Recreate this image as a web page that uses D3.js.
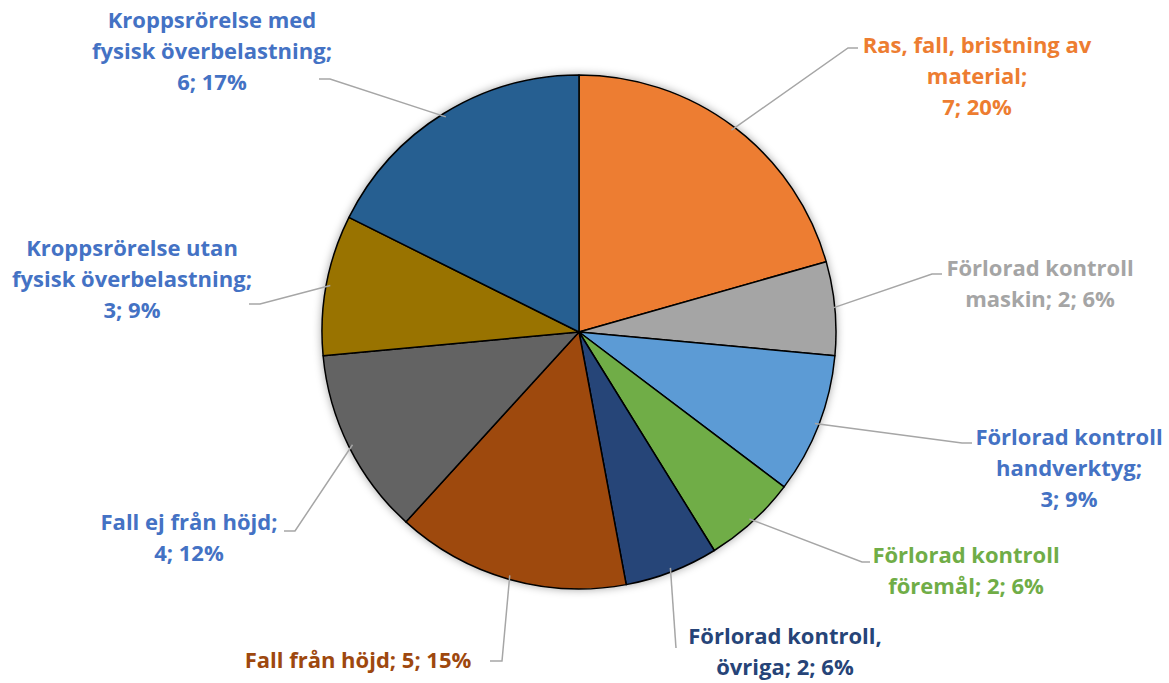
<!DOCTYPE html>
<html>
<head>
<meta charset="utf-8">
<script src="https://cdn.jsdelivr.net/npm/d3@7"></script>
<style>
  body { margin: 0; background: #fff; }
  svg text { font-family: "Open Sans", Lato, sans-serif; font-weight: bold; }
</style>
</head>
<body>
<div id="chart"></div>
<script>
const categories = [
  "Ras, fall, bristning av material",
  "Förlorad kontroll maskin",
  "Förlorad kontroll handverktyg",
  "Förlorad kontroll föremål",
  "Förlorad kontroll, övriga",
  "Fall från höjd",
  "Fall ej från höjd",
  "Kroppsrörelse utan fysisk överbelastning",
  "Kroppsrörelse med fysisk överbelastning"
];
const counts = [7, 2, 3, 2, 2, 5, 4, 3, 6];
const percents = ["20%", "6%", "9%", "6%", "6%", "15%", "12%", "9%", "17%"];
// label text as it wraps in the original
const labelLines = [
  ["Ras, fall, bristning av", "material;", "7; 20%"],
  ["Förlorad kontroll", "maskin; 2; 6%"],
  ["Förlorad kontroll", "handverktyg;", "3; 9%"],
  ["Förlorad kontroll", "föremål; 2; 6%"],
  ["Förlorad kontroll,", "övriga; 2; 6%"],
  ["Fall från höjd; 5; 15%"],
  ["Fall ej från höjd;", "4; 12%"],
  ["Kroppsrörelse utan", "fysisk överbelastning;", "3; 9%"],
  ["Kroppsrörelse med", "fysisk överbelastning;", "6; 17%"]
];
const sliceColors = ["#ED7D31", "#A5A5A5", "#5B9BD5", "#70AD47", "#264478", "#9E480E", "#636363", "#997300", "#255E91"];
const labelColors = ["#ED7D31", "#A5A5A5", "#4472C4", "#70AD47", "#264478", "#9E480E", "#4472C4", "#4472C4", "#4472C4"];

// label placement: text centre x, first line y, leader elbow, leader end
const labelLayout = [
  { x: 977, y: 53, elbow: [848, 48], end: [858, 48] },
  { x: 1040, y: 276, elbow: [932, 274], end: [942, 274] },
  { x: 1069, y: 445, elbow: [962, 443], end: [972, 443] },
  { x: 966, y: 563, elbow: [862, 562], end: [870, 562] },
  { x: 785, y: 644, elbow: [676, 648], end: [676, 648] },
  { x: 358, y: 668, elbow: [502, 661], end: [490, 661] },
  { x: 189, y: 530, elbow: [295, 531], end: [284, 531] },
  { x: 132, y: 256, elbow: [260, 304], end: [249, 304] },
  { x: 212, y: 28, elbow: [330, 79], end: [319, 79] }
];

const width = 1169, height = 683;
const cx = 579, cy = 332, radius = 257;
const lineHeight = 31;

const svg = d3.select("#chart").append("svg")
  .attr("width", width)
  .attr("height", height);

const defs = svg.append("defs");
const shadow = defs.append("filter")
  .attr("id", "shadow")
  .attr("x", "-10%").attr("y", "-10%")
  .attr("width", "120%").attr("height", "120%");
shadow.append("feDropShadow")
  .attr("dx", 0).attr("dy", 0)
  .attr("stdDeviation", 4)
  .attr("flood-color", "#000")
  .attr("flood-opacity", 0.35);

const pie = d3.pie().sort(null).value(d => d);
const arcs = pie(counts);

const arc = d3.arc().innerRadius(0).outerRadius(radius);
const edgeArc = d3.arc().innerRadius(radius - 4).outerRadius(radius - 4);

const g = svg.append("g").attr("transform", `translate(${cx},${cy})`);

g.append("g")
  .attr("filter", "url(#shadow)")
  .selectAll("path")
  .data(arcs)
  .enter()
  .append("path")
    .attr("d", arc)
    .style("fill", (d, i) => sliceColors[i])
    .style("stroke", "#000")
    .style("stroke-width", 1.5)
    .style("stroke-linejoin", "round");

// leader lines
svg.append("g")
  .selectAll("polyline")
  .data(arcs)
  .enter()
  .append("polyline")
    .attr("points", (d, i) => {
      const p = edgeArc.centroid(d);
      const l = labelLayout[i];
      return [[p[0] + cx, p[1] + cy], l.elbow, l.end].map(q => q.join(",")).join(" ");
    })
    .style("fill", "none")
    .style("stroke", "#A6A6A6")
    .style("stroke-width", 1.5);

// labels
const labels = svg.append("g")
  .selectAll("text")
  .data(arcs)
  .enter()
  .append("text")
    .attr("text-anchor", "middle")
    .style("font-size", "22px")
    .style("fill", (d, i) => labelColors[i]);

labels.each(function(d, i) {
  const l = labelLayout[i];
  d3.select(this).selectAll("tspan")
    .data(labelLines[i])
    .enter()
    .append("tspan")
      .attr("x", l.x)
      .attr("y", (t, j) => l.y + j * lineHeight)
      .text(t => t);
});
</script>
</body>
</html>
